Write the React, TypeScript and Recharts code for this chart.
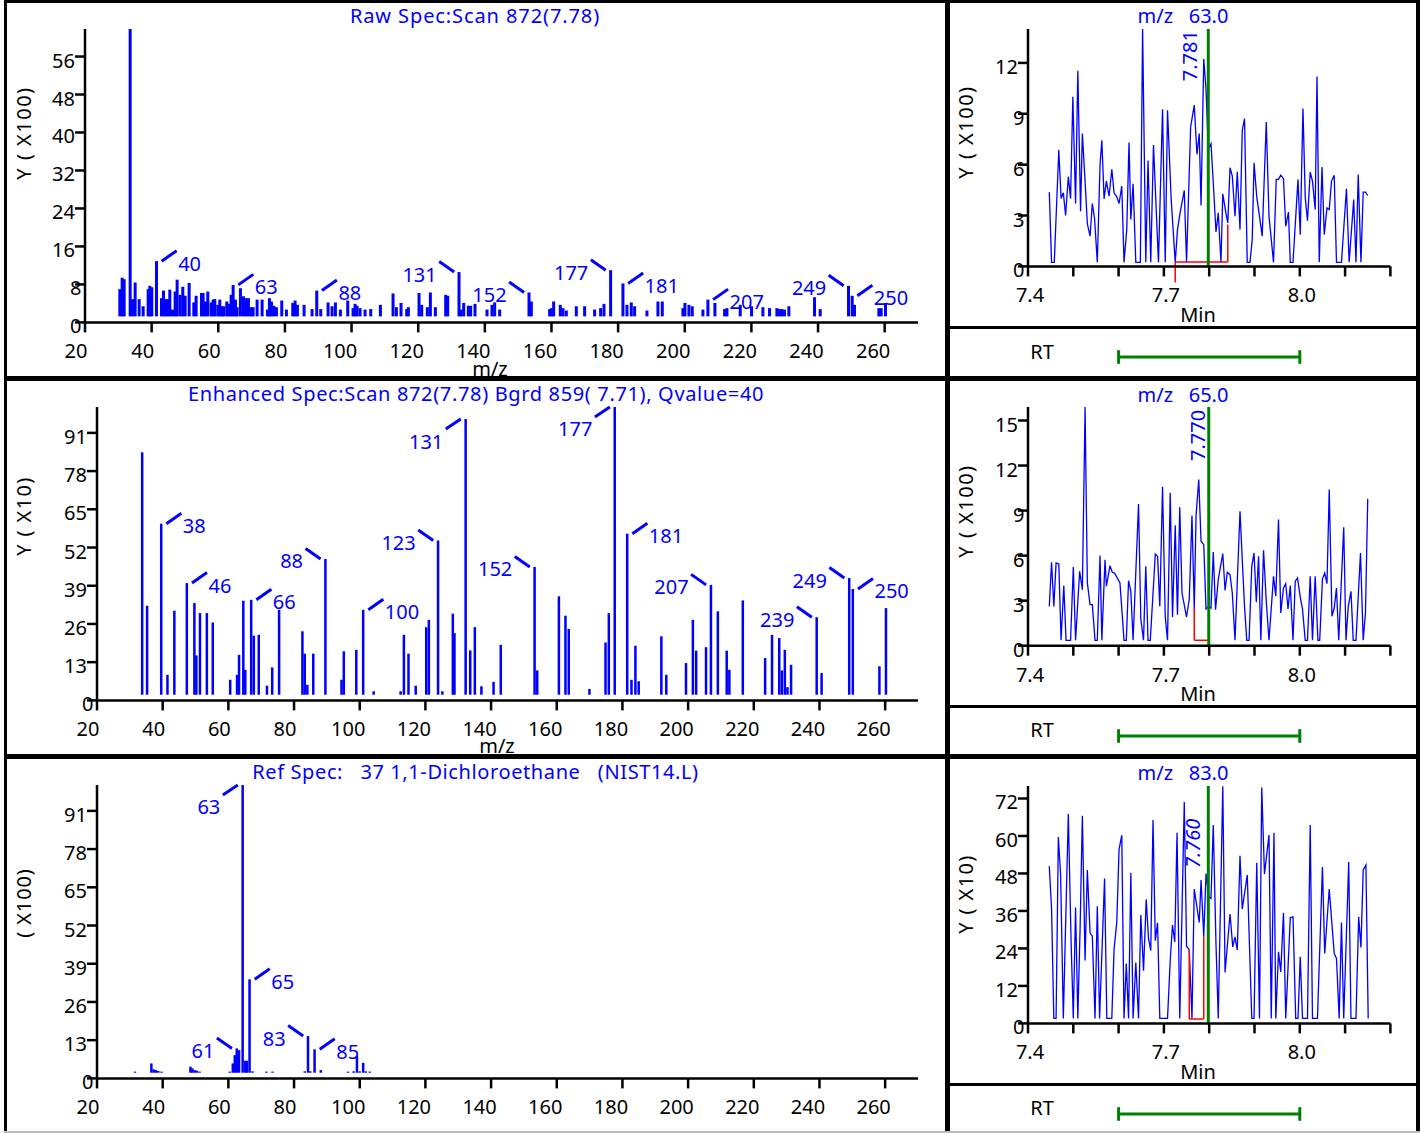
import React from 'react';
import { ComposedChart, Bar, Line, Scatter, XAxis, YAxis, ReferenceLine } from 'recharts';

const FONT = '"Noto Sans", "Open Sans", sans-serif';
const BLUE = '#0000ff';
const GREEN = '#008000';
const RED = '#ff0000';
const AXIS = { stroke: '#000', strokeWidth: 2.5 };

type Peak = [number, number];
type Side = 'R' | 'L' | 'LD';
type PeakLabel = [number, string, Side];
type Pt = [number, number];

// ---------- axis ticks ----------
const mzTicks = [20, 40, 60, 80, 100, 120, 140, 160, 180, 200, 220, 240, 260];
const rawYTicks = [0, 8, 16, 24, 32, 40, 48, 56];
const enhYTicks = [0, 13, 26, 39, 52, 65, 78, 91];
const refYTicks = [0, 13, 26, 39, 52, 65, 78, 91];
const rtTicks = [7.4, 7.5, 7.6, 7.7, 7.8, 7.9, 8.0, 8.1, 8.2];
const rtTickLabels = ['7.4', '', '', '7.7', '', '', '8.0', '', ''];
const ch1YTicks = [0, 3, 6, 9, 12];
const ch2YTicks = [0, 3, 6, 9, 12, 15];
const ch3YTicks = [0, 12, 24, 36, 48, 60, 72];

// ---------- spectra (m/z, intensity) ----------
const rawPeaks: Peak[] = [
  [30.5, 7.0], [31.2, 9.4], [31.8, 9.1], [33.6, 61.8], [34.3, 4.9], [35.1, 8.4], [36.3, 4.9], [37.5, 3.4], [39.0, 7.0], [39.5, 7.7],
  [40.1, 7.4], [41.5, 12.9], [43.0, 5.1], [43.6, 6.7], [44.2, 4.9], [44.8, 4.9], [45.5, 6.9], [46.3, 2.7], [47.1, 6.5], [47.7, 9.0],
  [48.6, 5.8], [49.4, 7.5], [50.1, 5.6], [51.3, 8.3], [52.7, 4.2], [53.4, 5.6], [55.0, 6.2], [55.5, 6.2], [56.2, 4.4], [56.9, 6.5],
  [57.9, 4.2], [58.5, 4.8], [59.0, 4.9], [59.9, 3.7], [60.5, 4.8], [61.1, 3.4], [61.7, 3.4], [62.6, 4.4], [63.2, 3.9], [63.9, 5.8],
  [64.5, 7.9], [65.2, 4.8], [65.7, 3.2], [66.7, 7.2], [67.6, 5.5], [68.3, 5.1], [69.1, 5.1], [69.9, 3.2], [70.5, 3.2], [71.7, 4.8],
  [73.2, 4.8], [74.8, 2.7], [75.4, 5.1], [76.0, 4.4], [76.7, 3.5], [77.5, 3.2], [79.1, 4.6], [80.5, 2.7], [82.4, 4.1], [83.1, 4.6],
  [83.8, 3.7], [85.8, 3.7], [88.2, 2.8], [89.6, 6.7], [90.8, 2.8], [93.0, 4.2], [94.2, 3.4], [95.2, 4.2], [96.7, 2.7], [98.9, 4.6],
  [100.5, 3.0], [101.1, 3.9], [101.7, 3.5], [102.6, 3.0], [104.1, 2.7], [105.8, 2.8], [108.7, 3.7], [112.5, 6.1], [113.5, 3.2], [114.9, 4.1],
  [116.6, 2.8], [117.1, 3.2], [120.3, 6.2], [121.1, 3.7], [122.8, 3.2], [123.7, 6.3], [125.2, 3.2], [128.3, 5.8], [128.9, 5.6], [132.3, 10.6],
  [132.9, 2.7], [133.7, 4.1], [135.1, 3.5], [135.8, 3.5], [137.1, 3.9], [140.7, 2.7], [142.2, 3.7], [143.0, 4.2], [144.5, 2.7], [153.3, 6.3],
  [154.0, 4.4], [159.5, 2.8], [160.1, 3.0], [160.7, 4.4], [162.7, 3.7], [163.5, 3.0], [164.5, 2.5], [167.5, 3.4], [170.0, 3.4], [173.0, 2.7],
  [174.8, 3.0], [175.8, 3.9], [177.8, 11.0], [181.5, 8.2], [182.7, 3.7], [184.0, 4.2], [185.0, 3.4], [188.7, 2.5], [192.0, 4.4], [193.3, 4.4],
  [199.5, 3.0], [200.1, 4.1], [201.3, 3.7], [202.3, 3.4], [205.5, 2.7], [207.0, 4.8], [209.1, 4.1], [212.0, 2.8], [212.7, 3.0], [216.7, 3.7],
  [220.1, 3.4], [223.5, 3.2], [225.5, 3.0], [227.7, 3.0], [228.5, 2.8], [229.2, 2.8], [230.0, 2.7], [231.3, 3.4], [239.0, 5.3], [240.7, 2.8],
  [249.2, 7.7], [250.3, 5.6], [251.0, 3.7], [258.3, 3.0], [259.0, 3.0], [260.3, 4.1],
];
const rawLabels: PeakLabel[] = [
  [41.5, '40', 'R'], [64.5, '63', 'R'], [89.6, '88', 'R'], [132.3, '131', 'L'], [153.3, '152', 'L'],
  [177.8, '177', 'L'], [181.5, '181', 'R'], [207.0, '207', 'R'], [249.2, '249', 'L'], [250.3, '250', 'R'],
];

const enhPeaks: Peak[] = [
  [33.8, 84.4], [35.3, 32.2], [39.6, 60.1], [41.5, 8.7], [43.6, 30.5], [47.4, 39.9], [49.7, 33.1], [50.3, 15.3], [51.4, 29.7], [53.5, 29.7],
  [55.3, 26.5], [60.6, 7.0], [62.7, 8.7], [63.3, 15.5], [64.6, 33.9], [65.2, 10.4], [67.0, 34.2], [67.8, 22.0], [69.3, 22.3], [71.8, 5.0],
  [73.4, 11.2], [75.5, 30.8], [82.6, 23.5], [83.3, 15.9], [84.1, 5.3], [85.9, 15.9], [89.6, 48.1], [94.5, 7.0], [95.2, 16.7], [99.0, 17.2],
  [101.1, 30.8], [104.3, 3.1], [112.5, 3.1], [113.5, 22.3], [114.9, 15.9], [117.1, 5.0], [120.3, 24.9], [121.1, 27.4], [123.9, 54.4], [125.2, 3.1],
  [128.4, 29.5], [128.9, 22.9], [132.3, 95.7], [133.7, 17.0], [135.1, 24.9], [137.1, 4.8], [140.8, 6.3], [143.0, 18.9], [153.3, 45.4], [154.1, 10.2],
  [160.7, 35.4], [162.7, 28.8], [163.7, 24.3], [170.0, 3.9], [174.9, 19.7], [175.9, 29.7], [177.7, 99.8], [181.5, 56.7], [182.8, 7.0], [184.0, 18.6],
  [185.0, 6.5], [191.9, 21.8], [193.4, 8.7], [199.4, 12.7], [201.5, 27.4], [202.5, 16.9], [205.5, 18.1], [207.0, 39.3], [209.1, 30.3], [211.8, 16.9],
  [212.6, 10.4], [216.7, 34.0], [223.5, 14.4], [225.6, 22.3], [227.8, 21.2], [228.6, 10.2], [229.5, 17.2], [230.3, 4.5], [231.4, 12.1], [239.2, 28.3],
  [240.7, 9.3], [249.1, 41.6], [250.2, 37.9], [258.3, 11.6], [260.3, 31.4],
];
const enhLabels: PeakLabel[] = [
  [39.6, '38', 'R'], [47.4, '46', 'R'], [67.0, '66', 'R'], [89.6, '88', 'L'], [101.1, '100', 'R'], [123.9, '123', 'L'],
  [132.3, '131', 'LD'], [153.3, '152', 'L'], [177.7, '177', 'LD'], [181.5, '181', 'R'], [207.0, '207', 'L'],
  [239.2, '239', 'L'], [249.1, '249', 'L'], [250.2, '250', 'R'],
];

const refPeaks: Peak[] = [
  [31.6, 2.3], [36.6, 5.1], [37.3, 3.1], [38.0, 2.8], [38.7, 2.5], [39.7, 2.3], [48.5, 4.0], [49.1, 3.4], [49.8, 2.8], [50.5, 2.6],
  [51.3, 2.3], [60.5, 2.3], [61.4, 5.1], [62.0, 7.9], [62.6, 10.2], [63.3, 9.6], [64.4, 99.8], [65.2, 6.0], [65.7, 6.0], [66.5, 33.7],
  [67.4, 2.4], [71.6, 2.3], [73.5, 2.3], [83.3, 2.4], [84.3, 14.4], [85.0, 2.4], [86.3, 9.9], [88.2, 2.8], [96.5, 2.3], [98.2, 2.4],
  [99.2, 7.6], [100.0, 2.4], [101.1, 5.3], [101.9, 2.4], [103.1, 2.3],
];
const refLabels: PeakLabel[] = [
  [62.6, '61', 'L'], [64.4, '63', 'LD'], [66.5, '65', 'R'], [84.3, '83', 'L'], [86.3, '85', 'R'],
];

// ---------- chromatograms (time min, intensity) ----------
const ch1Points: Pt[] = [
  [7.447, 4.38], [7.452, 0.24], [7.458, 0.24], [7.468, 6.86], [7.473, 4.0], [7.478, 4.34], [7.483, 3.0], [7.489, 5.29], [7.494, 4.0], [7.499, 10.0],
  [7.505, 3.71], [7.51, 11.54], [7.516, 3.25], [7.52, 7.83], [7.526, 5.03], [7.531, 2.52], [7.537, 1.78], [7.542, 3.71], [7.547, 2.8], [7.553, 0.24],
  [7.559, 5.96], [7.563, 7.44], [7.568, 3.98], [7.573, 5.03], [7.579, 4.14], [7.585, 5.72], [7.59, 4.34], [7.596, 4.1], [7.601, 3.71], [7.607, 4.73],
  [7.612, 0.24], [7.618, 2.17], [7.623, 7.3], [7.627, 2.76], [7.632, 4.87], [7.638, 0.24], [7.648, 0.24], [7.653, 14.0], [7.66, 0.24], [7.665, 6.25],
  [7.671, 0.24], [7.677, 7.16], [7.688, 0.24], [7.697, 9.27], [7.703, 0.24], [7.708, 9.21], [7.716, 3.98], [7.725, 0.24], [7.73, 2.17], [7.736, 3.2],
  [7.745, 4.48], [7.75, 0.24], [7.759, 8.22], [7.767, 9.51], [7.773, 6.61], [7.778, 7.83], [7.782, 3.59], [7.788, 12.23], [7.793, 10.45], [7.798, 6.94],
  [7.804, 7.24], [7.809, 4.93], [7.815, 2.03], [7.82, 3.16], [7.826, 0.24], [7.83, 4.28], [7.836, 3.29], [7.841, 2.56], [7.846, 5.82], [7.851, 5.33],
  [7.857, 2.96], [7.862, 5.58], [7.868, 2.17], [7.873, 8.03], [7.878, 8.72], [7.884, 0.24], [7.89, 0.24], [7.895, 1.58], [7.899, 6.11], [7.905, 4.1],
  [7.91, 3.16], [7.917, 1.78], [7.926, 8.52], [7.932, 2.96], [7.942, 0.24], [7.948, 5.13], [7.953, 5.13], [7.958, 5.38], [7.964, 5.17], [7.969, 2.37],
  [7.975, 3.2], [7.979, 0.24], [7.985, 0.24], [7.996, 5.13], [8.001, 1.87], [8.007, 9.31], [8.012, 4.08], [8.017, 2.7], [8.023, 5.56], [8.028, 5.03],
  [8.034, 3.35], [8.038, 11.2], [8.043, 0.24], [8.049, 5.86], [8.054, 1.87], [8.06, 3.45], [8.065, 3.35], [8.07, 5.03], [8.076, 5.38], [8.081, 0.24],
  [8.092, 0.24], [8.103, 4.58], [8.109, 0.24], [8.119, 3.94], [8.124, 0.24], [8.129, 5.42], [8.135, 0.24], [8.14, 4.38], [8.145, 4.38], [8.15, 4.18],
];
const ch2Points: Pt[] = [
  [7.447, 2.62], [7.452, 5.56], [7.457, 2.62], [7.462, 5.51], [7.468, 5.44], [7.473, 0.36], [7.479, 4.0], [7.484, 0.36], [7.494, 0.36], [7.5, 5.24],
  [7.505, 0.36], [7.514, 4.96], [7.52, 3.73], [7.526, 15.9], [7.531, 4.18], [7.537, 2.73], [7.542, 2.73], [7.548, 0.36], [7.553, 0.36], [7.559, 6.0],
  [7.563, 0.36], [7.57, 5.73], [7.573, 3.96], [7.581, 5.33], [7.586, 4.89], [7.591, 4.84], [7.603, 4.18], [7.612, 0.36], [7.617, 0.36], [7.622, 4.33],
  [7.627, 3.62], [7.632, 0.36], [7.644, 9.44], [7.649, 1.78], [7.655, 0.36], [7.66, 5.29], [7.665, 0.36], [7.67, 0.36], [7.681, 6.11], [7.686, 5.96],
  [7.691, 2.62], [7.697, 10.58], [7.703, 1.91], [7.708, 0.36], [7.714, 10.18], [7.719, 1.91], [7.725, 8.02], [7.73, 2.07], [7.735, 9.22], [7.74, 3.51],
  [7.75, 1.91], [7.756, 3.11], [7.762, 8.67], [7.767, 2.44], [7.771, 8.67], [7.777, 11.07], [7.782, 6.96], [7.788, 6.73], [7.793, 2.44], [7.799, 2.62],
  [7.804, 2.51], [7.809, 6.24], [7.814, 2.4], [7.82, 4.4], [7.83, 6.13], [7.835, 3.69], [7.84, 4.89], [7.846, 4.73], [7.851, 3.51], [7.857, 0.36],
  [7.868, 8.96], [7.873, 5.73], [7.878, 2.62], [7.883, 0.36], [7.888, 0.36], [7.894, 5.29], [7.899, 6.18], [7.904, 2.89], [7.909, 5.96], [7.914, 0.36],
  [7.92, 6.36], [7.926, 2.96], [7.932, 0.36], [7.942, 4.62], [7.947, 3.29], [7.953, 8.4], [7.958, 2.18], [7.964, 3.84], [7.969, 4.13], [7.974, 2.44],
  [7.979, 4.0], [7.985, 0.36], [7.99, 4.29], [7.995, 4.51], [8.001, 3.24], [8.006, 2.44], [8.012, 0.36], [8.017, 0.36], [8.023, 4.62], [8.028, 0.36],
  [8.034, 4.62], [8.04, 0.36], [8.044, 0.36], [8.05, 4.44], [8.055, 4.84], [8.06, 4.13], [8.065, 10.4], [8.071, 1.96], [8.076, 2.51], [8.081, 3.84],
  [8.086, 0.36], [8.097, 7.89], [8.102, 0.36], [8.107, 2.62], [8.113, 3.62], [8.118, 0.36], [8.124, 0.36], [8.134, 6.18], [8.14, 0.36], [8.145, 2.18],
  [8.15, 9.78],
];
const ch3Points: Pt[] = [
  [7.447, 50.3], [7.452, 36.8], [7.457, 1.6], [7.462, 1.6], [7.467, 59.7], [7.472, 47.5], [7.478, 1.6], [7.489, 67.0], [7.495, 26.9], [7.5, 1.6],
  [7.505, 37.1], [7.51, 1.6], [7.515, 30.4], [7.52, 66.5], [7.526, 20.1], [7.531, 49.1], [7.537, 29.0], [7.542, 27.9], [7.548, 1.6], [7.553, 37.5],
  [7.558, 1.6], [7.569, 46.4], [7.574, 1.6], [7.585, 1.6], [7.59, 23.7], [7.596, 32.5], [7.601, 55.7], [7.607, 60.2], [7.612, 1.6], [7.617, 19.2],
  [7.622, 1.6], [7.627, 48.2], [7.632, 1.6], [7.638, 19.5], [7.644, 1.6], [7.649, 34.7], [7.655, 16.9], [7.661, 39.7], [7.666, 27.2], [7.671, 23.3],
  [7.676, 65.1], [7.681, 26.5], [7.686, 32.2], [7.691, 1.6], [7.708, 1.6], [7.714, 20.3], [7.719, 31.5], [7.724, 26.1], [7.729, 61.0], [7.735, 1.6],
  [7.745, 70.9], [7.75, 24.7], [7.756, 23.5], [7.762, 1.6], [7.767, 43.0], [7.778, 32.3], [7.782, 45.9], [7.788, 27.9], [7.793, 48.0], [7.799, 40.5],
  [7.804, 40.0], [7.809, 63.5], [7.815, 25.4], [7.82, 1.6], [7.83, 75.9], [7.835, 16.3], [7.846, 35.0], [7.852, 24.5], [7.857, 27.7], [7.862, 23.5],
  [7.868, 53.7], [7.873, 36.6], [7.884, 47.5], [7.894, 1.6], [7.899, 1.6], [7.905, 51.4], [7.911, 1.6], [7.916, 75.5], [7.922, 47.8], [7.932, 60.3],
  [7.937, 1.6], [7.943, 61.0], [7.947, 1.6], [7.953, 22.9], [7.958, 16.5], [7.964, 35.4], [7.969, 1.6], [7.979, 33.8], [7.985, 34.1], [7.991, 1.6],
  [7.996, 1.6], [8.001, 21.3], [8.006, 1.6], [8.017, 1.6], [8.023, 63.5], [8.028, 1.6], [8.039, 1.6], [8.05, 50.1], [8.055, 22.4], [8.065, 43.0],
  [8.076, 22.4], [8.081, 20.8], [8.087, 1.6], [8.092, 32.3], [8.097, 1.6], [8.108, 51.7], [8.113, 1.6], [8.124, 1.6], [8.13, 34.1], [8.135, 24.3],
  [8.14, 49.1], [8.146, 50.7], [8.151, 1.6],
];

// integration markers (red) and apex (green)
const ch1Marker: Pt[] = [[7.725, -0.95], [7.725, 0.26], [7.841, 0.26], [7.841, 2.47]];
const ch2Marker: Pt[] = [[7.767, 2.5], [7.767, 0.36], [7.799, 0.36], [7.799, 3.33]];
const ch3Marker: Pt[] = [[7.756, 23.5], [7.756, 1.4], [7.788, 1.4], [7.788, 28.0]];
const apexTimes = [7.798, 7.799, 7.798];
const apexLabels = ['7.781', '7.770', '7.760'];
const rtRange = [7.6, 8.0];

// ---------- layout constants ----------
const ML = 80, MT = 20, MR = 20, MB = 50;

const txtStyle: React.CSSProperties = { fontFamily: FONT, fontSize: 20 };

const SpecXTick = (p: any) => {
  const s = String(p.payload.value);
  const dx = s.length >= 3 ? -11.5 : -9;
  return <text x={p.x + dx} y={p.y + 26} textAnchor="middle" fontFamily={FONT} fontSize={20} fill="#000">{s}</text>;
};
const YTick = (p: any) => {
  const s = String(p.payload.value);
  return <text x={p.x + (s.length === 1 ? 6.5 : 0)} y={p.y + 11} textAnchor="end" fontFamily={FONT} fontSize={20} fill="#000">{s}</text>;
};
const ChromXTick = (p: any) => {
  const i = rtTicks.findIndex((v) => Math.abs(v - p.payload.value) < 1e-6);
  const s = i >= 0 ? rtTickLabels[i] : '';
  if (!s) return <g />;
  return <text x={p.x + 2} y={p.y + 26} textAnchor="middle" fontFamily={FONT} fontSize={20} fill="#000">{s}</text>;
};

const PeakLabelShape = (p: any) => {
  const { cx, cy, payload } = p;
  if (cx == null || cy == null || !payload) return <g />;
  const side: Side = payload.side;
  const down = side === 'LD';
  const dir = side === 'R' ? 1 : -1;
  const x1 = cx + dir * 5;
  const x2 = cx + dir * 20;
  const y2 = down ? cy + 10 : cy - 10.5;
  const tx = side === 'R' ? cx + 21.5 : cx - 22.5;
  const ty = (down ? cy + 22.5 : cy + 2.5) + 7;
  return (
    <g>
      <line x1={x1} y1={cy} x2={x2} y2={y2} stroke={BLUE} strokeWidth={3} />
      <text x={tx} y={ty} textAnchor={side === 'R' ? 'start' : 'end'} fill={BLUE} fontFamily={FONT} fontSize={20}>{payload.text}</text>
    </g>
  );
};

function Spectrum({ peaks, labels, base, yMax, yTicks, left, top, plotW, plotH, barW }: any) {
  const data = peaks.map(([mz, v]: Peak) => ({ mz, v }));
  const labelData = labels.map(([mz, text, side]: PeakLabel) => {
    const pk = peaks.find((q: Peak) => q[0] === mz);
    return { mz, v: pk ? pk[1] : 0, text, side };
  });
  return (
    <div style={{ position: 'absolute', left: left - ML, top: top - MT }}>
      <ComposedChart width={plotW + ML + MR} height={plotH + MT + MB} data={data} margin={{ top: MT, right: MR, bottom: 0, left: 0 }}>
        <XAxis dataKey="mz" type="number" domain={[20, 270]} ticks={mzTicks} interval={0} tickSize={10} tickMargin={0}
          height={MB} axisLine={AXIS} tickLine={AXIS} tick={SpecXTick} />
        <YAxis type="number" domain={[0, yMax]} ticks={yTicks} interval={0} tickSize={10} tickMargin={0}
          width={ML} axisLine={AXIS} tickLine={AXIS} tick={YTick} />
        <Bar dataKey={(d: any) => [base, d.v]} isAnimationActive={false} fill={BLUE}
          shape={(p: any) => (
            <rect x={p.x + p.width / 2 - barW / 2} y={p.y} width={barW} height={Math.max(0, p.height)} fill={BLUE} />
          )} />
        <Scatter data={labelData} dataKey="v" isAnimationActive={false} shape={PeakLabelShape} />
      </ComposedChart>
    </div>
  );
}

function Chrom({ points, yMax, yTicks, left, top, plotW, plotH, apex, marker, apexLabel, labelDx, labelDy, italic }: any) {
  const data = points.map(([t, v]: Pt) => ({ t, v }));
  const segs = marker.slice(1).map((p: Pt, i: number) => [marker[i], p]);
  const labelContent = (lp: any) => {
    const vb = lp.viewBox || lp;
    const cx = vb.x + labelDx;
    const cy = vb.y + labelDy;
    return (
      <text x={cx} y={cy + 7} transform={`rotate(-90 ${cx} ${cy})`} textAnchor="middle" fill={BLUE}
        fontFamily={FONT} fontSize={20} fontStyle={italic ? 'italic' : 'normal'}>{apexLabel}</text>
    );
  };
  return (
    <div style={{ position: 'absolute', left: left - ML, top: top - MT }}>
      <ComposedChart width={plotW + ML + MR} height={plotH + MT + MB} data={data} margin={{ top: MT, right: MR, bottom: 0, left: 0 }}>
        <XAxis dataKey="t" type="number" domain={[7.4, 8.2]} ticks={rtTicks} interval={0} tickSize={10} tickMargin={0}
          height={MB} axisLine={AXIS} tickLine={AXIS} tick={ChromXTick} />
        <YAxis type="number" domain={[0, yMax]} ticks={yTicks} interval={0} tickSize={10} tickMargin={0}
          width={ML} axisLine={AXIS} tickLine={AXIS} tick={YTick} />
        <Line dataKey="v" stroke={BLUE} strokeWidth={1.3} dot={false} isAnimationActive={false} />
        {segs.map(([a, b]: Pt[], i: number) => (
          <ReferenceLine key={'s' + i} segment={[{ x: a[0], y: a[1] }, { x: b[0], y: b[1] }]} stroke={RED} strokeWidth={1.5} ifOverflow="visible" />
        ))}
        <ReferenceLine x={apex} stroke={GREEN} strokeWidth={3} label={labelContent} />
      </ComposedChart>
    </div>
  );
}

function RTBand({ left, cy, plotW }: any) {
  const data = rtRange.map((t) => ({ t, v: 0 }));
  return (
    <div style={{ position: 'absolute', left: left - ML, top: cy - 20 }}>
      <ComposedChart width={plotW + ML + MR} height={40} data={data} margin={{ top: 0, right: MR, bottom: 0, left: ML }}>
        <XAxis dataKey="t" type="number" domain={[7.4, 8.2]} hide />
        <YAxis type="number" domain={[-1, 1]} hide />
        <Line dataKey="v" stroke={GREEN} strokeWidth={3} dot={false} isAnimationActive={false} />
        {rtRange.map((t) => (
          <ReferenceLine key={'c' + t} segment={[{ x: t, y: -0.34 }, { x: t, y: 0.34 }]} stroke={GREEN} strokeWidth={3} ifOverflow="visible" />
        ))}
      </ComposedChart>
    </div>
  );
}

function Txt({ x, y, children, color = '#000', rotate = false, ls = 0 }: any) {
  return (
    <div style={{
      ...txtStyle, position: 'absolute', left: x - 400, width: 800, top: y - 14.6, height: 28, lineHeight: '28px',
      textAlign: 'center', whiteSpace: 'pre', color, letterSpacing: ls, transform: rotate ? 'rotate(-90deg)' : undefined,
    }}>{children}</div>
  );
}
function TxtBase({ x, baseline, children, color = '#000' }: any) {
  return (
    <div style={{
      ...txtStyle, position: 'absolute', left: x - 100, width: 200, top: baseline - 21.8, height: 28, lineHeight: '28px',
      textAlign: 'center', whiteSpace: 'pre', color,
    }}>{children}</div>
  );
}
function Rule({ x, y, w, h, color = '#000' }: any) {
  return <div style={{ position: 'absolute', left: x, top: y, width: w, height: h, background: color }} />;
}

export default function App() {
  const chromLeft = 1028.3;
  const chromW = 362.4;
  return (
    <div style={{ position: 'absolute', left: 0, top: 0, width: 1424, height: 1133, background: '#fff', overflow: 'hidden' }}>
      <Spectrum peaks={rawPeaks} labels={rawLabels} base={1.27} yMax={61.8} yTicks={rawYTicks}
        left={85.3} top={29.3} plotW={833} plotH={293.4} barW={3} />
      <Spectrum peaks={enhPeaks} labels={enhLabels} base={1.93} yMax={99.8} yTicks={enhYTicks}
        left={97.3} top={407.3} plotW={821} plotH={293.4} barW={2.5} />
      <Spectrum peaks={refPeaks} labels={refLabels} base={1.93} yMax={99.8} yTicks={refYTicks}
        left={97.3} top={785.3} plotW={821} plotH={293.4} barW={2.5} />

      <Chrom points={ch1Points} yMax={14} yTicks={ch1YTicks} left={chromLeft} top={29.3} plotW={chromW} plotH={237.4}
        apex={apexTimes[0]} marker={ch1Marker} apexLabel={apexLabels[0]} labelDx={-18} labelDy={26.7} />
      <Chrom points={ch2Points} yMax={15.9} yTicks={ch2YTicks} left={chromLeft} top={407.3} plotW={chromW} plotH={238.7}
        apex={apexTimes[1]} marker={ch2Marker} apexLabel={apexLabels[1]} labelDx={-10.7} labelDy={28.4} />
      <Chrom points={ch3Points} yMax={76} yTicks={ch3YTicks} left={chromLeft} top={786.3} plotW={chromW} plotH={237.4}
        apex={apexTimes[2]} marker={ch3Marker} apexLabel={apexLabels[2]} labelDx={-15} labelDy={57.4} italic />

      <RTBand left={chromLeft} cy={357.3} plotW={chromW} />
      <RTBand left={chromLeft} cy={736} plotW={chromW} />
      <RTBand left={chromLeft} cy={1113.7} plotW={chromW} />

      <Txt x={475} y={16.7} color={BLUE} ls={0.9}>Raw Spec:Scan 872(7.78)</Txt>
      <Txt x={476} y={394.7} color={BLUE} ls={0.65}>Enhanced Spec:Scan 872(7.78) Bgrd 859( 7.71), Qvalue=40</Txt>
      <Txt x={475.5} y={772.8} color={BLUE} ls={0.6}>{'Ref Spec:   37 1,1-Dichloroethane   (NIST14.L)'}</Txt>
      <Txt x={1183} y={17} color={BLUE}>{'m/z   63.0'}</Txt>
      <Txt x={1183} y={395.5} color={BLUE}>{'m/z   65.0'}</Txt>
      <Txt x={1183} y={773.7} color={BLUE}>{'m/z   83.0'}</Txt>

      <Txt x={24} y={134} rotate ls={1.5}>Y ( X100)</Txt>
      <Txt x={24} y={517} rotate ls={1.4}>Y ( X10)</Txt>
      <Txt x={24} y={904} rotate ls={0.9}>( X100)</Txt>
      <Txt x={966} y={133} rotate ls={1.5}>Y ( X100)</Txt>
      <Txt x={966} y={512} rotate ls={1.5}>Y ( X100)</Txt>
      <Txt x={966} y={895} rotate ls={1.4}>Y ( X10)</Txt>

      <TxtBase x={490} baseline={376.5}>m/z</TxtBase>
      <TxtBase x={497} baseline={754}>m/z</TxtBase>
      <TxtBase x={1198} baseline={322.5}>Min</TxtBase>
      <TxtBase x={1198} baseline={701.7}>Min</TxtBase>
      <TxtBase x={1198} baseline={1079.7}>Min</TxtBase>
      <Txt x={1042} y={352.5}>RT</Txt>
      <Txt x={1042} y={730.8}>RT</Txt>
      <Txt x={1042} y={1109}>RT</Txt>

      {/* frame */}
      <Rule x={4} y={0} w={1416} h={3} />
      <Rule x={4} y={0} w={3} h={1133} />
      <Rule x={1416} y={0} w={4} h={1133} />
      <Rule x={945} y={0} w={5} h={1131} />
      <Rule x={4} y={376} w={1416} h={5} />
      <Rule x={4} y={754} w={1416} h={5} />
      <Rule x={947} y={326} w={473} h={3} />
      <Rule x={947} y={705} w={473} h={3} />
      <Rule x={947} y={1083} w={473} h={3} />
      <Rule x={4} y={1131} w={1416} h={2} color="#bbb" />
    </div>
  );
}
